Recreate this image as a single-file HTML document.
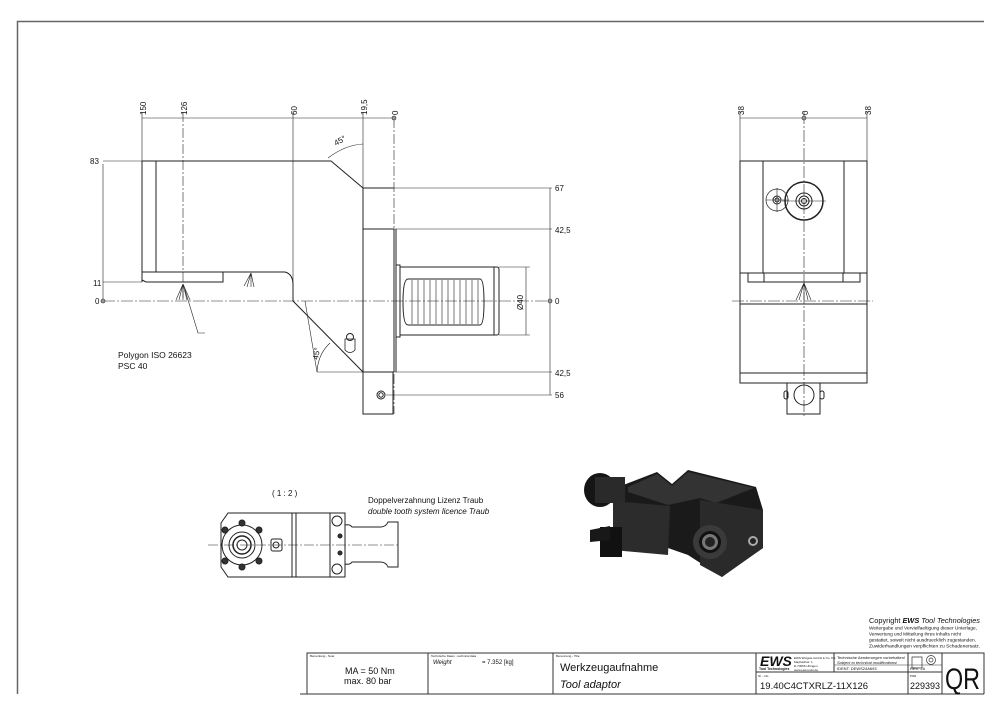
<!DOCTYPE html>
<html><head><meta charset="utf-8"><style>
html,body{margin:0;padding:0;background:#fff}
svg{display:block}
text{font-family:"Liberation Sans",sans-serif;fill:#111}
.m{font-family:"DejaVu Sans Condensed","DejaVu Sans",sans-serif}
</style></head><body>
<svg width="1000" height="715" viewBox="0 0 1000 715" xmlns="http://www.w3.org/2000/svg">
<g fill="none" stroke="#222" stroke-width="1">
<path d="M17.5 694 V21.5 H984" stroke="#666" stroke-width="1.5"/>

<g stroke-width="0.6">
<line x1="142" y1="112" x2="142" y2="161"/>
<line x1="183" y1="112" x2="183" y2="300" stroke-dasharray="10 2 2 2"/>
<line x1="293" y1="112" x2="293" y2="285"/>
<line x1="363" y1="112" x2="363" y2="188"/>
<line x1="394" y1="118" x2="394" y2="414" stroke-dasharray="10 2 2 2"/>
<line x1="142" y1="118" x2="394" y2="118"/>
<line x1="103" y1="161" x2="142" y2="161"/>
<line x1="103" y1="282" x2="142" y2="282"/>
<line x1="103" y1="164" x2="103" y2="301"/>
<line x1="103" y1="301" x2="550" y2="301" stroke-dasharray="12 2 2 2"/>
<line x1="363" y1="188" x2="552" y2="188"/>
<line x1="363" y1="229" x2="552" y2="229"/>
<line x1="317" y1="372" x2="552" y2="372"/>
<line x1="386" y1="395" x2="552" y2="395"/>
<line x1="550" y1="188" x2="550" y2="395"/>
<line x1="499" y1="267" x2="530" y2="267"/>
<line x1="499" y1="335" x2="530" y2="335"/>
<line x1="526" y1="267" x2="526" y2="335"/>
<path d="M328 158 Q345 145 363 144"/>
<path d="M317 372 Q318 354 330 343"/>
<line x1="305" y1="301" x2="317" y2="372"/>
</g>
<circle cx="394" cy="118" r="2" fill="#999" stroke-width="0.6"/>
<circle cx="103" cy="301" r="2" fill="#999" stroke-width="0.6"/>
<circle cx="550" cy="301" r="2" fill="#999" stroke-width="0.6"/>
<path d="M142 161 H331 L363 188 V372"/>
<path d="M142 161 V282"/>
<line x1="156" y1="161" x2="156" y2="272"/>
<path d="M142 272 H223 V282 H146 L142 280"/>
<path d="M223 272 H285 Q293 274 293 285 V301 L363 372"/>
<line x1="363" y1="229" x2="394" y2="229"/>
<path d="M363 188 H394"/>
<line x1="363" y1="372" x2="394" y2="372"/>
<path d="M394 229 V372 M396 229 V372"/>
<rect x="396" y="265" width="4" height="72"/>
<rect x="363" y="372" width="30" height="42"/>
<circle cx="381" cy="395" r="4"/><circle cx="381" cy="395" r="2.2"/>
<path d="M400 267 H497 Q499 267 499 270 V332 Q499 335 497 335 H400"/>
<line x1="494" y1="267" x2="494" y2="335"/>
<path d="M408 279 H480 Q484 279 484 302 Q484 325 480 325 H408 Q403 325 403 302 Q403 279 408 279 Z"/>
<g stroke-width="0.6">
<path d="M412 280 V324 M418 280 V324 M424 280 V324 M430 280 V324 M436 280 V324 M442 280 V324 M448 280 V324 M454 280 V324 M460 280 V324 M466 280 V324 M472 280 V324 M478 280 V324"/>
</g>
<path d="M345 339 H355 V350 Q350 355 345 350 Z" stroke-width="0.8"/>
<circle cx="350" cy="337" r="3.5"/>
<g stroke-width="0.6">
<path d="M183 284 L176 300 M183 284 L179 300 M183 284 L183 300 M183 284 L187 300 M183 284 L190 300"/>
<path d="M185 290 L198 333 H205"/>
<path d="M251 273 L244 286 M251 273 L247 287 M251 273 L251 287 M251 273 L254 287"/>
<path d="M804 283 L796 300 M804 283 L799 300 M804 283 L804 300 M804 283 L808 300 M804 283 L811 300"/>
</g>

<g stroke-width="0.6">
<line x1="740" y1="112" x2="740" y2="161"/>
<line x1="867" y1="112" x2="867" y2="161"/>
<line x1="740" y1="118" x2="867" y2="118"/>
<line x1="804" y1="112" x2="804" y2="418" stroke-dasharray="12 2 2 2"/>
<line x1="732" y1="301" x2="873" y2="301" stroke-dasharray="12 2 2 2"/>
<line x1="766" y1="200" x2="789" y2="200"/>
<line x1="777" y1="188" x2="777" y2="212"/>
<line x1="782" y1="201" x2="826" y2="201"/>
</g>
<circle cx="804" cy="118" r="2" fill="#999" stroke-width="0.6"/>
<rect x="740" y="161" width="127" height="222"/>
<line x1="763" y1="161" x2="763" y2="273"/>
<line x1="844" y1="161" x2="844" y2="273"/>
<line x1="740" y1="273" x2="867" y2="273"/>
<rect x="748" y="273" width="112" height="9"/>
<line x1="764" y1="273" x2="764" y2="282"/><line x1="843" y1="273" x2="843" y2="282"/>
<line x1="740" y1="304" x2="867" y2="304"/>
<line x1="740" y1="373" x2="867" y2="373"/>
<circle cx="804" cy="201" r="19" stroke-width="1.5"/>
<circle cx="804" cy="201" r="8"/><circle cx="804" cy="201" r="5"/><circle cx="804" cy="201" r="2.5"/>
<circle cx="777" cy="200" r="11" stroke-width="0.7"/>
<circle cx="777" cy="200" r="4"/><circle cx="777" cy="200" r="2"/>
<path d="M787 383 V414 H820 V383"/>
<circle cx="804" cy="395" r="10"/>
<rect x="784" y="391" width="4" height="8" rx="2"/><rect x="820" y="391" width="4" height="8" rx="2"/>

<path d="M228 513 H330 V577 H228 L221 567 V523 Z"/>
<line x1="292" y1="513" x2="292" y2="577"/>
<line x1="296" y1="513" x2="296" y2="577"/>
<rect x="330" y="513" width="15" height="64"/>
<path d="M345 525 Q350 524 352 527 H380 Q386 527 388 522 H398 V567 H388 Q386 562 380 562 H352 Q350 565 345 564"/>
<line x1="208" y1="545" x2="400" y2="545" stroke-width="0.5" stroke-dasharray="10 2 2 2"/>
<circle cx="242" cy="545" r="20"/>
<circle cx="242" cy="545" r="13"/><circle cx="242" cy="545" r="9" stroke-width="1.5"/><circle cx="242" cy="545" r="5"/>
<g fill="#333">
<circle cx="225" cy="530" r="3"/><circle cx="259" cy="530" r="3"/><circle cx="225" cy="561" r="3"/><circle cx="259" cy="561" r="3"/>
<circle cx="242" cy="523" r="3"/><circle cx="242" cy="567" r="3"/>
<circle cx="340" cy="536" r="2"/><circle cx="340" cy="553" r="2"/>
</g>
<rect x="271" y="539" width="11" height="12" rx="2"/><circle cx="276" cy="545" r="3"/>
<circle cx="337" cy="521" r="5"/><circle cx="337" cy="569" r="5"/>

<g stroke="none">
<polygon points="618,487 657,472 672,484 688,470 756,487 763,510 763,548 735,567 722,577 688,555 668,548 668,542 628,525" fill="#1a1a1a"/>
<polygon points="628,487 657,474 672,486 688,472 754,488 716,503 700,498 668,505 628,492" fill="#333"/>
<polygon points="700,500 763,510 763,548 722,577 700,565" fill="#2a2a2a"/>
<polygon points="613,501 670,506 668,555 613,550" fill="#2c2c2c"/>
<ellipse cx="600" cy="490" rx="16" ry="17" fill="#151515"/>
<rect x="595" y="477" width="30" height="26" fill="#2a2a2a"/>
<rect x="600" y="527" width="22" height="30" fill="#111"/>
<polygon points="590,530 610,526 610,540 590,542" fill="#181818"/>
<circle cx="710" cy="542" r="17" fill="#3a3a3a"/>
<circle cx="710" cy="542" r="11" fill="#111"/>
<circle cx="710" cy="542" r="8" fill="#777"/>
<circle cx="710" cy="542" r="5" fill="#222"/>
<circle cx="753" cy="541" r="5" fill="#aaa"/><circle cx="753" cy="541" r="3" fill="#222"/>
</g>
</g>

<g class="m" font-size="8">
<text transform="translate(146,115) rotate(-90)">150</text>
<text transform="translate(187,115) rotate(-90)">126</text>
<text transform="translate(297,115) rotate(-90)">60</text>
<text transform="translate(367,115) rotate(-90)">19,5</text>
<text transform="translate(398,115) rotate(-90)">0</text>
<text x="90" y="164">83</text>
<text x="93" y="286">11</text>
<text x="95" y="304">0</text>
<text x="555" y="191">67</text>
<text x="555" y="233">42,5</text>
<text x="555" y="304">0</text>
<text x="555" y="376">42,5</text>
<text x="555" y="398">56</text>
<text transform="translate(523,310) rotate(-90)">Ø40</text>
<text transform="translate(336,146) rotate(-30)">45°</text>
<text transform="translate(318,360) rotate(-80)">45°</text>
<text x="118" y="358" font-size="8.5">Polygon ISO 26623</text>
<text x="118" y="369" font-size="8.5">PSC 40</text>
<text transform="translate(744,115) rotate(-90)">38</text>
<text transform="translate(808,115) rotate(-90)">0</text>
<text transform="translate(871,115) rotate(-90)">38</text>
<text x="272" y="496">( 1 : 2 )</text>
<text x="368" y="503">Doppelverzahnung Lizenz Traub</text>
<text x="368" y="514" font-style="italic">double tooth system licence Traub</text>
</g>

<g fill="none" stroke="#333" stroke-width="1">
<path d="M307 694 V653 H984 V694"/>
<line x1="428" y1="653" x2="428" y2="694"/>
<line x1="553" y1="653" x2="553" y2="694"/>
<line x1="756" y1="653" x2="756" y2="694"/>
<line x1="756" y1="672" x2="942" y2="672"/>
<line x1="834" y1="653" x2="834" y2="672"/>
<line x1="908" y1="653" x2="908" y2="694"/>
<line x1="834" y1="665" x2="942" y2="665" stroke-width="0.5"/>
<line x1="942" y1="653" x2="942" y2="694"/>
<line x1="300" y1="694" x2="984" y2="694"/>
<path d="M912 657 H922 V668 H912 Z" stroke-width="0.7"/>
<circle cx="931" cy="660" r="4.5" stroke-width="0.7"/><circle cx="931" cy="660" r="2" stroke-width="0.7"/>
</g>
<g class="m">
<text x="310" y="657" font-size="3">Bemerkung - Note</text>
<text x="431" y="657" font-size="3">Technische Daten - technical data</text>
<text x="556" y="657" font-size="3">Benennung - Title</text>
<text x="345" y="674" font-size="9">MA = 50 Nm</text>
<text x="344" y="684" font-size="9">max. 80 bar</text>
<text x="433" y="664" font-size="6" font-style="italic">Weight</text>
<text x="482" y="664" font-size="6">=  7.352 [kg]</text>
<text x="560" y="671" font-size="11">Werkzeugaufnahme</text>
<text x="560" y="688" font-size="11" font-style="italic">Tool adaptor</text>
<text x="837" y="659" font-size="4">Technische Aenderungen vorbehalten!</text>
<text x="837" y="664" font-size="4" font-style="italic">Subject to technical modifications!</text>
<text x="837" y="670" font-size="4">IDENT:  DEWS24A693</text>
<text x="910" y="670" font-size="4">REV.  -/A</text>
<text x="758" y="677" font-size="3">Nr. - No.</text>
<text x="910" y="677" font-size="3">PNR</text>
<text x="760" y="689" font-size="9.5">19.40C4CTXRLZ-11X126</text>
<text x="910" y="689" font-size="9.5" textLength="30" lengthAdjust="spacingAndGlyphs">229393</text>
<text x="945" y="689" font-size="30" textLength="35" lengthAdjust="spacingAndGlyphs">QR</text>
</g>
<text x="760" y="666" font-size="14" font-weight="bold" font-style="italic">EWS</text>
<text x="759" y="670" font-size="3.5" font-weight="bold">Tool Technologies</text>
<text x="794" y="659" font-size="3">EWS Weigele GmbH &amp; Co. KG</text>
<text x="794" y="663" font-size="3">Maybachstr. 1</text>
<text x="794" y="667" font-size="3">D-73066 Uhingen</text>
<text x="794" y="671" font-size="3">www.ews-tools.de</text>
<text x="869" y="623" font-size="7.5" textLength="111" lengthAdjust="spacingAndGlyphs">Copyright <tspan font-weight="bold" font-style="italic">EWS</tspan> <tspan font-style="italic">Tool Technologies</tspan></text>
<text x="869" y="629.5" font-size="4.8" textLength="108" lengthAdjust="spacingAndGlyphs">Weitergabe und Vervielfaeltigung dieser Unterlage,</text>
<text x="869" y="635.5" font-size="4.8" textLength="92" lengthAdjust="spacingAndGlyphs">Verwertung und Mitteilung ihres Inhalts nicht</text>
<text x="869" y="641.5" font-size="4.8" textLength="107" lengthAdjust="spacingAndGlyphs">gestattet, soweit nicht ausdruecklich zugestanden.</text>
<text x="869" y="647.5" font-size="4.8" textLength="111" lengthAdjust="spacingAndGlyphs">Zuwiderhandlungen verpflichten zu Schadenersatz.</text>
</svg>
</body></html>
